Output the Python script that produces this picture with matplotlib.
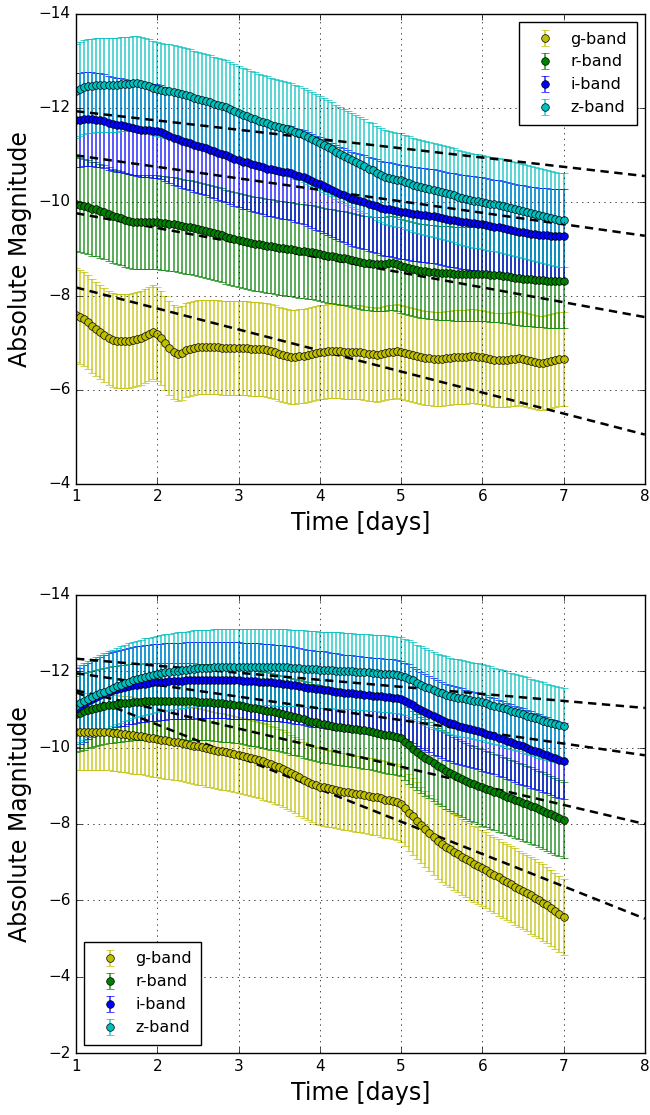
import numpy as np
import matplotlib
matplotlib.use('Agg')
import matplotlib.pyplot as plt

# sampling grid of the light curves (days)
days = np.round(np.arange(1.0, 7.001, 0.05), 2)

bands = ['g-band', 'r-band', 'i-band', 'z-band']
band_colors = ['y', 'g', 'b', 'c']
mag_err = [1.0, 1.0, 1.0, 1.0]

# ---- upper panel ----
top_g = [-7.60, -7.55, -7.50, -7.44, -7.37, -7.30, -7.23, -7.17, -7.11, -7.07,
         -7.05, -7.05, -7.05, -7.05, -7.06, -7.08, -7.11, -7.15, -7.19, -7.23,
         -7.18, -7.10, -7.00, -6.90, -6.80, -6.76, -6.79, -6.84, -6.88, -6.90,
         -6.92, -6.92, -6.91, -6.91, -6.91, -6.91, -6.90, -6.90, -6.90, -6.90,
         -6.90, -6.89, -6.89, -6.88, -6.88, -6.87, -6.86, -6.84, -6.82, -6.80,
         -6.77, -6.75, -6.73, -6.71, -6.71, -6.72, -6.73, -6.75, -6.77, -6.79,
         -6.80, -6.81, -6.82, -6.82, -6.82, -6.82, -6.81, -6.81, -6.80, -6.80,
         -6.80, -6.79, -6.77, -6.76, -6.75, -6.76, -6.78, -6.80, -6.81, -6.82,
         -6.81, -6.79, -6.76, -6.74, -6.72, -6.70, -6.68, -6.67, -6.66, -6.66,
         -6.66, -6.67, -6.68, -6.69, -6.70, -6.71, -6.71, -6.72, -6.72, -6.71,
         -6.70, -6.68, -6.66, -6.64, -6.63, -6.63, -6.64, -6.65, -6.66, -6.67,
         -6.66, -6.64, -6.61, -6.59, -6.58, -6.58, -6.59, -6.61, -6.63, -6.65,
         -6.66]
top_r = [-9.95, -9.93, -9.91, -9.89, -9.86, -9.84, -9.81, -9.78, -9.75, -9.71,
         -9.68, -9.65, -9.62, -9.60, -9.58, -9.57, -9.57, -9.57, -9.57, -9.57,
         -9.57, -9.56, -9.55, -9.53, -9.52, -9.50, -9.49, -9.47, -9.46, -9.44,
         -9.42, -9.41, -9.39, -9.37, -9.34, -9.32, -9.29, -9.26, -9.23, -9.21,
         -9.18, -9.16, -9.14, -9.12, -9.11, -9.10, -9.08, -9.07, -9.06, -9.04,
         -9.03, -9.01, -9.00, -8.99, -8.97, -8.96, -8.95, -8.94, -8.93, -8.91,
         -8.90, -8.88, -8.86, -8.84, -8.82, -8.81, -8.80, -8.79, -8.77, -8.75,
         -8.73, -8.71, -8.69, -8.68, -8.67, -8.67, -8.68, -8.69, -8.69, -8.67,
         -8.64, -8.62, -8.60, -8.58, -8.56, -8.54, -8.52, -8.51, -8.50, -8.49,
         -8.49, -8.48, -8.48, -8.47, -8.47, -8.46, -8.46, -8.46, -8.46, -8.46,
         -8.46, -8.46, -8.45, -8.45, -8.44, -8.43, -8.42, -8.41, -8.39, -8.38,
         -8.37, -8.36, -8.35, -8.34, -8.33, -8.33, -8.32, -8.32, -8.32, -8.32,
         -8.32]
top_i = [-11.74, -11.75, -11.76, -11.76, -11.76, -11.75, -11.74, -11.72, -11.68, -11.66,
         -11.64, -11.63, -11.61, -11.59, -11.57, -11.55, -11.54, -11.53, -11.52, -11.51,
         -11.50, -11.48, -11.45, -11.41, -11.36, -11.33, -11.30, -11.28, -11.25, -11.22,
         -11.20, -11.17, -11.14, -11.11, -11.08, -11.05, -11.02, -10.99, -10.96, -10.92,
         -10.89, -10.86, -10.84, -10.81, -10.79, -10.76, -10.74, -10.71, -10.69, -10.67,
         -10.66, -10.64, -10.63, -10.61, -10.58, -10.55, -10.52, -10.49, -10.45, -10.41,
         -10.38, -10.34, -10.30, -10.25, -10.21, -10.17, -10.14, -10.10, -10.07, -10.04,
         -10.01, -9.99, -9.96, -9.93, -9.91, -9.88, -9.86, -9.84, -9.82, -9.80,
         -9.79, -9.78, -9.77, -9.75, -9.74, -9.73, -9.72, -9.70, -9.69, -9.67,
         -9.65, -9.64, -9.62, -9.61, -9.60, -9.58, -9.57, -9.56, -9.55, -9.53,
         -9.52, -9.50, -9.49, -9.47, -9.46, -9.44, -9.43, -9.41, -9.39, -9.37,
         -9.36, -9.34, -9.32, -9.31, -9.30, -9.29, -9.29, -9.28, -9.28, -9.27,
         -9.27]
top_z = [-12.37, -12.41, -12.44, -12.46, -12.47, -12.48, -12.48, -12.48, -12.48, -12.49,
         -12.49, -12.50, -12.50, -12.51, -12.52, -12.52, -12.50, -12.48, -12.46, -12.43,
         -12.41, -12.39, -12.37, -12.35, -12.34, -12.32, -12.30, -12.28, -12.25, -12.22,
         -12.20, -12.17, -12.14, -12.12, -12.09, -12.07, -12.04, -12.01, -11.97, -11.93,
         -11.89, -11.86, -11.83, -11.79, -11.76, -11.73, -11.70, -11.67, -11.64, -11.61,
         -11.59, -11.57, -11.55, -11.52, -11.49, -11.46, -11.43, -11.39, -11.34, -11.30,
         -11.25, -11.21, -11.16, -11.12, -11.07, -11.03, -10.98, -10.94, -10.89, -10.85,
         -10.80, -10.76, -10.71, -10.67, -10.62, -10.58, -10.54, -10.51, -10.49, -10.47,
         -10.46, -10.43, -10.40, -10.37, -10.34, -10.32, -10.30, -10.27, -10.25, -10.23,
         -10.21, -10.18, -10.16, -10.14, -10.11, -10.09, -10.07, -10.05, -10.03, -10.02,
         -10.00, -9.98, -9.96, -9.95, -9.93, -9.91, -9.89, -9.88, -9.86, -9.83,
         -9.81, -9.79, -9.76, -9.74, -9.72, -9.70, -9.68, -9.66, -9.64, -9.62,
         -9.61]

# ---- lower panel ----
bot_g = [-10.42, -10.42, -10.42, -10.42, -10.42, -10.42, -10.42, -10.42, -10.41, -10.39,
         -10.38, -10.36, -10.35, -10.34, -10.32, -10.31, -10.30, -10.28, -10.26, -10.24,
         -10.22, -10.21, -10.19, -10.18, -10.16, -10.14, -10.12, -10.10, -10.07, -10.05,
         -10.03, -10.01, -9.98, -9.96, -9.94, -9.92, -9.90, -9.88, -9.86, -9.83,
         -9.81, -9.78, -9.76, -9.73, -9.70, -9.67, -9.64, -9.61, -9.57, -9.53,
         -9.49, -9.45, -9.40, -9.34, -9.28, -9.22, -9.16, -9.10, -9.05, -9.01,
         -8.98, -8.96, -8.93, -8.91, -8.89, -8.87, -8.85, -8.83, -8.81, -8.79,
         -8.78, -8.76, -8.74, -8.72, -8.70, -8.67, -8.64, -8.62, -8.60, -8.58,
         -8.53, -8.43, -8.30, -8.20, -8.09, -7.98, -7.87, -7.76, -7.66, -7.56,
         -7.47, -7.40, -7.34, -7.27, -7.21, -7.14, -7.08, -7.02, -6.96, -6.91,
         -6.85, -6.79, -6.72, -6.66, -6.60, -6.54, -6.48, -6.42, -6.36, -6.30,
         -6.24, -6.19, -6.13, -6.07, -6.00, -5.94, -5.87, -5.80, -5.72, -5.64,
         -5.57]
bot_r = [-10.89, -10.92, -10.95, -10.98, -11.01, -11.04, -11.07, -11.09, -11.11, -11.13,
         -11.14, -11.16, -11.17, -11.18, -11.19, -11.20, -11.20, -11.21, -11.21, -11.22,
         -11.22, -11.22, -11.22, -11.22, -11.22, -11.22, -11.22, -11.21, -11.21, -11.21,
         -11.20, -11.20, -11.19, -11.19, -11.18, -11.17, -11.16, -11.15, -11.14, -11.12,
         -11.11, -11.09, -11.07, -11.05, -11.03, -11.01, -10.99, -10.97, -10.95, -10.93,
         -10.90, -10.88, -10.85, -10.82, -10.80, -10.77, -10.74, -10.71, -10.68, -10.66,
         -10.63, -10.61, -10.59, -10.57, -10.55, -10.54, -10.52, -10.51, -10.49, -10.48,
         -10.46, -10.45, -10.43, -10.41, -10.39, -10.36, -10.34, -10.32, -10.30, -10.28,
         -10.26, -10.16, -10.06, -9.97, -9.89, -9.81, -9.74, -9.67, -9.59, -9.52,
         -9.46, -9.40, -9.33, -9.28, -9.23, -9.18, -9.13, -9.08, -9.04, -9.00,
         -8.96, -8.92, -8.88, -8.84, -8.80, -8.76, -8.72, -8.68, -8.64, -8.60,
         -8.56, -8.52, -8.48, -8.44, -8.40, -8.35, -8.30, -8.25, -8.20, -8.15,
         -8.10]
bot_i = [-11.02, -11.09, -11.16, -11.22, -11.28, -11.33, -11.38, -11.43, -11.47, -11.50,
         -11.53, -11.56, -11.58, -11.61, -11.63, -11.65, -11.67, -11.68, -11.70, -11.71,
         -11.71, -11.72, -11.73, -11.74, -11.74, -11.75, -11.75, -11.76, -11.76, -11.76,
         -11.77, -11.77, -11.77, -11.77, -11.77, -11.77, -11.77, -11.77, -11.76, -11.76,
         -11.76, -11.75, -11.75, -11.74, -11.74, -11.73, -11.72, -11.71, -11.71, -11.70,
         -11.69, -11.68, -11.67, -11.65, -11.63, -11.61, -11.59, -11.57, -11.55, -11.54,
         -11.54, -11.52, -11.50, -11.48, -11.47, -11.46, -11.44, -11.43, -11.42, -11.41,
         -11.40, -11.38, -11.37, -11.36, -11.35, -11.34, -11.33, -11.32, -11.31, -11.30,
         -11.28, -11.23, -11.18, -11.12, -11.05, -10.99, -10.93, -10.88, -10.82, -10.77,
         -10.73, -10.68, -10.64, -10.61, -10.58, -10.55, -10.52, -10.49, -10.46, -10.43,
         -10.40, -10.37, -10.33, -10.30, -10.26, -10.22, -10.18, -10.14, -10.10, -10.06,
         -10.03, -9.99, -9.95, -9.91, -9.88, -9.84, -9.80, -9.76, -9.72, -9.68,
         -9.65]
bot_z = [-11.10, -11.16, -11.21, -11.27, -11.32, -11.37, -11.42, -11.47, -11.52, -11.56,
         -11.61, -11.65, -11.70, -11.73, -11.77, -11.80, -11.83, -11.86, -11.88, -11.91,
         -11.93, -11.95, -11.97, -11.98, -12.00, -12.02, -12.03, -12.04, -12.06, -12.07,
         -12.08, -12.08, -12.09, -12.09, -12.10, -12.10, -12.10, -12.11, -12.11, -12.11,
         -12.11, -12.11, -12.11, -12.11, -12.11, -12.11, -12.11, -12.11, -12.11, -12.10,
         -12.10, -12.10, -12.10, -12.09, -12.08, -12.08, -12.07, -12.06, -12.05, -12.05,
         -12.04, -12.04, -12.03, -12.03, -12.02, -12.02, -12.01, -12.01, -12.00, -11.99,
         -11.99, -11.98, -11.97, -11.96, -11.95, -11.94, -11.94, -11.93, -11.92, -11.91,
         -11.89, -11.85, -11.81, -11.76, -11.70, -11.65, -11.60, -11.55, -11.50, -11.46,
         -11.43, -11.39, -11.36, -11.33, -11.31, -11.29, -11.27, -11.25, -11.23, -11.21,
         -11.19, -11.16, -11.13, -11.09, -11.06, -11.03, -11.00, -10.96, -10.93, -10.90,
         -10.87, -10.84, -10.81, -10.78, -10.74, -10.71, -10.68, -10.65, -10.62, -10.59,
         -10.56]

# linear fits (dashed), values at day 1 and day 8
fit_days = [1, 8]
top_fits = [[-8.18, -5.05], [-9.76, -7.55], [-10.99, -9.28], [-11.93, -10.55]]
bot_fits = [[-11.45, -5.52], [-11.50, -8.00], [-11.95, -9.80], [-12.33, -11.04]]


def draw_panel(ax, series, fits, ylims, legend_loc):
    for mags, err, name, col in zip(series, mag_err, bands, band_colors):
        line, caps, bars = ax.errorbar(days, mags, yerr=err, fmt='o', color=col, ecolor=col,
                                       ms=5.5, mec='k', mew=0.5, capsize=3, elinewidth=1.3,
                                       label=name)
        for b in bars:
            b.set_alpha(0.7)
    for f in fits:
        ax.plot(fit_days, f, color='k', ls='--', lw=1.8, dashes=(6, 4))
    ax.set_xlim(1, 8)
    ax.set_ylim(ylims[1], ylims[0])
    ax.set_xticks(range(1, 9))
    ax.set_yticks(np.arange(ylims[0], ylims[1] + 1, 2))
    ax.grid(True)
    ax.tick_params(labelsize=11)
    ax.set_xlabel('Time [days]', fontsize=17)
    ax.set_ylabel('Absolute Magnitude', fontsize=17)
    ax.legend(loc=legend_loc, numpoints=1, fontsize=11.5, fancybox=False,
              borderpad=0.6, handletextpad=0.6)


plt.style.use('classic')
plt.rcParams['figure.facecolor'] = 'white'
plt.rcParams['savefig.facecolor'] = 'white'
plt.rcParams['font.family'] = ['DejaVu Sans']

fig = plt.figure(figsize=(6.5, 11.15), dpi=100)
ax1 = fig.add_axes([0.117, 0.566, 0.875, 0.4215])
ax2 = fig.add_axes([0.117, 0.0556, 0.875, 0.4108])

draw_panel(ax1, [top_g, top_r, top_i, top_z], top_fits, (-14, -4), 'upper right')
draw_panel(ax2, [bot_g, bot_r, bot_i, bot_z], bot_fits, (-14, -2), 'lower left')

fig.savefig('out.png', dpi=100)
